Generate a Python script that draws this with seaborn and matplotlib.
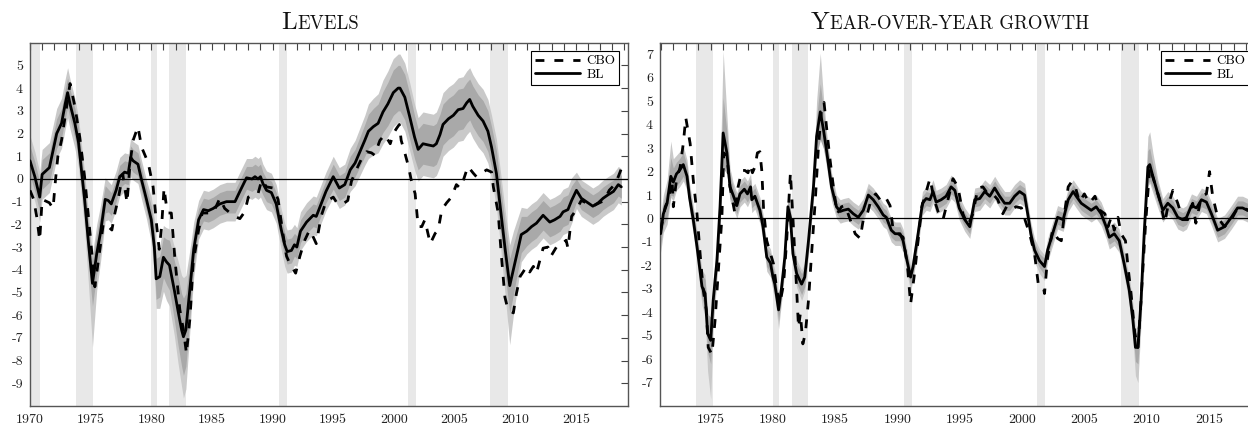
import numpy as np
import matplotlib
matplotlib.use("Agg")
import matplotlib.pyplot as plt
import seaborn as sns
from matplotlib.ticker import FixedLocator, MultipleLocator

sns.set_theme(style="white")
plt.rcParams["font.family"] = ["cmr10", "DejaVu Serif"]
plt.rcParams["axes.unicode_minus"] = False
plt.rcParams["mathtext.fontset"] = "cm"
plt.rcParams["axes.formatter.use_mathtext"] = True

# ---------------- recessions (NBER) ----------------
rec_start = [1969.92, 1973.83, 1980.00, 1981.50, 1990.50, 2001.17, 2007.92]
rec_end = [1970.83, 1975.17, 1980.50, 1982.83, 1991.17, 2001.83, 2009.42]

# ---------------- LEVELS panel ----------------
lev_bl_t = [
    1970.00, 1970.40, 1970.80, 1971.00, 1971.60, 1972.20, 1972.60, 1972.90, 1973.10, 1973.30, 1973.70,
    1974.00, 1974.50, 1974.80, 1975.15, 1975.50, 1975.80, 1976.20,
    1976.45, 1976.70, 1977.10, 1977.40, 1977.80, 1978.10, 1978.30, 1978.50, 1978.90, 1979.20, 1979.60,
    1980.00, 1980.25, 1980.40, 1980.70, 1981.00, 1981.25, 1981.50, 1981.90, 1982.20, 1982.50, 1982.65, 1982.85, 1983.20, 1983.50,
    1983.90, 1984.30, 1984.70, 1985.10, 1985.65, 1986.20, 1986.90, 1987.30, 1987.85, 1988.30, 1988.55, 1988.80, 1989.00, 1989.20, 1989.50, 1989.90,
    1990.30, 1990.70, 1991.00, 1991.20, 1991.55, 1991.80, 1992.00, 1992.30, 1992.80, 1993.35, 1993.60,
    1994.00, 1994.40, 1995.00, 1995.50, 1995.95, 1996.40, 1996.80, 1997.20, 1997.60, 1997.90, 1998.30, 1998.70,
    1999.10, 1999.50, 1999.95, 2000.35, 2000.50, 2000.90, 2001.30, 2001.70,
    2002.00, 2002.40, 2002.80, 2003.25, 2003.50, 2003.80, 2004.05, 2004.50, 2004.90, 2005.30, 2005.70, 2006.00, 2006.25, 2006.50, 2006.95, 2007.35, 2007.75,
    2008.05, 2008.45, 2008.70, 2009.15, 2009.55, 2009.85, 2010.25, 2010.50,
    2010.95, 2011.35, 2011.75, 2012.30, 2012.85, 2013.25, 2013.70, 2013.95, 2014.35, 2014.65,
    2015.05, 2015.45, 2016.00, 2016.40, 2016.85, 2017.25, 2017.65, 2018.10, 2018.50, 2018.75,
]
lev_bl = [
    0.80, 0.10, -0.80, 0.20, 0.50, 2.00, 2.45, 3.30, 3.80, 3.30, 2.45,
    1.60, -0.90, -2.70, -4.60, -3.30, -2.40, -0.90,
    -0.95, -1.10, -0.50, 0.10, 0.30, 0.25, 0.95, 0.80, 0.65, -0.05, -0.90,
    -1.80, -3.00, -4.40, -4.30, -3.45, -3.65, -3.80, -4.90, -5.80, -6.65, -6.95, -6.65, -4.75, -3.10,
    -1.80, -1.35, -1.40, -1.30, -1.10, -1.00, -1.00, -0.55, 0.05, 0.00, 0.10, 0.00, 0.10, -0.20, -0.50, -0.60,
    -1.10, -2.20, -2.90, -3.20, -3.15, -2.90, -3.00, -2.30, -1.90, -1.60, -1.65,
    -1.10, -0.55, 0.10, -0.40, -0.25, 0.40, 0.70, 1.20, 1.70, 2.10, 2.30, 2.45,
    2.95, 3.30, 3.80, 4.00, 4.00, 3.60, 2.75, 1.85,
    1.30, 1.55, 1.50, 1.45, 1.55, 1.95, 2.40, 2.65, 2.80, 3.05, 3.10, 3.35, 3.50, 3.20, 2.80, 2.55, 2.10,
    1.40, 0.25, -0.90, -3.00, -4.70, -4.00, -3.05, -2.45,
    -2.30, -2.10, -1.95, -1.60, -1.90, -1.80, -1.65, -1.45, -1.35, -0.95,
    -0.50, -0.85, -1.05, -1.20, -1.05, -0.85, -0.70, -0.55, -0.25, -0.35,
]
lev_inner = [
    0.65, 0.65, 0.65, 0.65, 0.65, 0.65, 0.65, 0.65, 0.65, 0.65, 0.65,
    0.70, 0.80, 0.90, 1.00, 0.90, 0.80, 0.60,
    0.50, 0.50, 0.50, 0.50, 0.50, 0.50, 0.50, 0.50, 0.50, 0.50, 0.50,
    0.60, 0.80, 0.90, 0.90, 0.90, 1.00, 1.10, 1.30, 1.50, 1.60, 1.70, 1.60, 1.20, 0.80,
    0.50, 0.50, 0.50, 0.50, 0.50, 0.50, 0.50, 0.50, 0.50, 0.55, 0.55, 0.55, 0.55, 0.50, 0.50, 0.50,
    0.50, 0.50, 0.55, 0.55, 0.55, 0.50, 0.50, 0.50, 0.50, 0.50, 0.50,
    0.50, 0.50, 0.55, 0.55, 0.55, 0.60, 0.60, 0.65, 0.70, 0.75, 0.80, 0.85,
    0.90, 0.95, 1.00, 1.00, 1.00, 1.00, 1.00, 0.95,
    0.90, 0.90, 0.90, 0.90, 0.90, 0.90, 0.90, 0.90, 0.90, 0.90, 0.90, 0.90, 0.90, 0.90, 0.90, 0.90, 0.90,
    0.90, 1.00, 1.00, 1.10, 1.20, 1.10, 0.90, 0.80,
    0.65, 0.65, 0.65, 0.65, 0.65, 0.65, 0.65, 0.65, 0.65, 0.65,
    0.50, 0.50, 0.50, 0.50, 0.50, 0.50, 0.50, 0.50, 0.50, 0.50,
]
lev_out_lo = [
    1.10, 1.10, 1.10, 1.10, 1.10, 1.10, 1.10, 1.10, 1.10, 1.10, 1.10,
    1.10, 1.30, 1.80, 2.80, 1.60, 1.30, 0.95,
    0.85, 0.85, 0.85, 0.85, 0.85, 0.85, 0.85, 0.85, 0.85, 0.85, 0.85,
    1.00, 1.20, 1.30, 1.40, 1.50, 1.70, 1.80, 2.00, 2.30, 2.50, 2.70, 2.60, 1.80, 1.20,
    0.85, 0.85, 0.85, 0.85, 0.85, 0.85, 0.85, 0.85, 0.85, 0.90, 0.90, 0.90, 0.90, 0.85, 0.85, 0.85,
    0.85, 0.90, 0.95, 0.95, 0.95, 0.90, 0.85, 0.85, 0.85, 0.85, 0.85,
    0.85, 0.85, 0.90, 0.90, 0.90, 0.95, 1.00, 1.05, 1.10, 1.20, 1.25, 1.30,
    1.40, 1.45, 1.50, 1.50, 1.50, 1.50, 1.50, 1.45,
    1.40, 1.40, 1.40, 1.40, 1.40, 1.40, 1.40, 1.40, 1.40, 1.40, 1.40, 1.40, 1.40, 1.40, 1.40, 1.40, 1.40,
    1.40, 1.50, 1.60, 2.00, 2.60, 2.00, 1.50, 1.20,
    1.00, 1.00, 1.00, 1.00, 1.00, 1.00, 1.00, 1.00, 1.00, 1.00,
    0.80, 0.80, 0.80, 0.80, 0.80, 0.80, 0.80, 0.80, 0.80, 0.80,
]
lev_out_hi = [
    1.10, 1.10, 1.10, 1.10, 1.10, 1.10, 1.10, 1.10, 1.10, 1.10, 1.10,
    1.10, 1.20, 1.30, 1.30, 1.30, 1.20, 0.95,
    0.85, 0.85, 0.85, 0.85, 0.85, 0.85, 0.85, 0.85, 0.85, 0.85, 0.85,
    1.00, 1.20, 1.30, 1.40, 1.40, 1.50, 1.60, 1.90, 2.20, 2.40, 2.60, 2.40, 1.70, 1.20,
    0.85, 0.85, 0.85, 0.85, 0.85, 0.85, 0.85, 0.85, 0.85, 0.90, 0.90, 0.90, 0.90, 0.85, 0.85, 0.85,
    0.85, 0.90, 0.95, 0.95, 0.95, 0.90, 0.85, 0.85, 0.85, 0.85, 0.85,
    0.85, 0.85, 0.90, 0.90, 0.90, 0.95, 1.00, 1.05, 1.10, 1.20, 1.25, 1.30,
    1.40, 1.45, 1.50, 1.50, 1.50, 1.50, 1.50, 1.45,
    1.40, 1.40, 1.40, 1.40, 1.40, 1.40, 1.40, 1.40, 1.40, 1.40, 1.40, 1.40, 1.40, 1.40, 1.40, 1.40, 1.40,
    1.40, 1.50, 1.60, 1.70, 1.80, 1.70, 1.40, 1.20,
    1.00, 1.00, 1.00, 1.00, 1.00, 1.00, 1.00, 1.00, 1.00, 1.00,
    0.80, 0.80, 0.80, 0.80, 0.80, 0.80, 0.80, 0.80, 0.80, 0.80,
]
lev_cbo_t = [
    1970.00, 1970.30, 1970.55, 1970.80, 1971.00, 1971.40, 1971.60, 1971.90, 1972.10, 1972.30, 1972.60, 1972.90,
    1973.30, 1973.70, 1974.10, 1974.50, 1974.95, 1975.35, 1975.75, 1976.05, 1976.45, 1976.75, 1977.00, 1977.30,
    1977.65, 1978.00, 1978.25, 1978.50, 1978.90, 1979.20, 1979.75, 1980.15, 1980.45, 1980.65, 1980.85, 1981.05,
    1981.25, 1981.40, 1981.65, 1981.95, 1982.35, 1982.65, 1982.90, 1983.20, 1983.45, 1983.90, 1984.20, 1984.55,
    1985.10, 1985.65, 1986.05, 1986.50, 1986.90, 1987.30, 1987.70, 1988.00, 1988.40, 1988.80, 1989.10, 1989.50,
    1990.05, 1990.45, 1990.85, 1991.15, 1991.40, 1991.90, 1992.25, 1992.65, 1993.05, 1993.30, 1993.60, 1994.00,
    1994.40, 1995.00, 1995.35, 1995.80, 1996.20, 1996.50, 1996.90, 1997.30, 1997.75, 1998.15, 1998.40, 1998.85,
    1999.25, 1999.70, 1999.95, 2000.25, 2000.45, 2000.60, 2000.90, 2001.20, 2001.45, 2001.75, 2002.00, 2002.30,
    2002.55, 2003.00, 2003.40, 2003.65, 2003.95, 2004.35, 2004.75, 2005.15, 2005.45, 2005.70, 2006.10, 2006.55,
    2006.80, 2007.20, 2007.65, 2008.05, 2008.20, 2008.60, 2008.85, 2009.15, 2009.40, 2009.85, 2010.10, 2010.40,
    2010.65, 2010.95, 2011.20, 2011.50, 2011.75, 2012.05, 2012.30, 2012.70, 2012.95, 2013.40, 2013.80, 2014.20,
    2014.35, 2014.65, 2015.05, 2015.45, 2015.85, 2016.40, 2016.95, 2017.35, 2017.75, 2018.20, 2018.50, 2018.75,
]
lev_cbo = [
    -0.50, -0.90, -1.65, -2.70, -0.90, -1.00, -1.05, -1.30, -0.05, 1.00, 1.70, 2.75,
    4.20, 3.20, 1.85, 0.10, -2.40, -4.75, -3.15, -1.95, -2.10, -2.25, -1.50, -0.80,
    0.20, -1.05, 0.70, 1.70, 2.30, 1.40, 0.70, -0.35, -2.10, -3.10, -2.10, -0.40,
    -1.20, -1.50, -1.50, -3.55, -5.75, -6.65, -7.70, -6.05, -3.70, -2.25, -1.50, -1.50,
    -1.50, -0.85, -1.30, -1.50, -1.65, -1.75, -1.45, -0.80, -0.70, -0.65, -0.05, -0.35,
    -0.40, -0.90, -2.40, -3.40, -3.70, -4.15, -3.40, -2.70, -2.25, -2.50, -2.85, -1.65,
    -1.00, -0.80, -1.10, -1.10, -0.95, -0.10, 0.40, 0.85, 1.20, 1.15, 1.05, 1.70,
    1.95, 1.55, 2.00, 2.25, 2.40, 1.70, 1.15, 0.55, -0.10, -0.65, -2.10, -2.10,
    -1.80, -2.85, -2.40, -2.25, -1.35, -1.05, -0.80, -0.25, -0.40, -0.10, 0.55, 0.25,
    0.10, 0.25, 0.40, 0.30, -0.35, -1.50, -3.30, -5.20, -5.75, -5.90, -5.05, -4.30,
    -4.10, -3.85, -4.10, -3.85, -4.15, -3.55, -3.05, -3.00, -3.40, -3.00, -2.90, -2.70,
    -3.05, -1.65, -1.35, -0.95, -1.05, -1.20, -1.05, -0.95, -0.50, -0.25, 0.10, 0.45,
]

# ---------------- YEAR-OVER-YEAR GROWTH panel ----------------
yoy_bl_t = [
    1970.98, 1971.20, 1971.50, 1971.80, 1972.00, 1972.25, 1972.50, 1972.80, 1973.10, 1973.30, 1973.60, 1973.90,
    1974.30, 1974.55, 1974.75, 1975.00, 1975.20, 1975.50,
    1975.75, 1976.00, 1976.30, 1976.55,
    1976.80, 1977.10, 1977.35, 1977.70, 1977.95, 1978.20, 1978.30, 1978.55, 1978.95, 1979.20,
    1979.50, 1979.80, 1980.00, 1980.15, 1980.45, 1980.70, 1980.95, 1981.20, 1981.40,
    1981.60, 1981.90, 1982.30, 1982.55, 1982.85, 1983.25,
    1983.50, 1983.80, 1984.05, 1984.30, 1984.70,
    1985.10, 1985.40, 1985.65, 1986.05, 1986.45, 1986.85, 1987.25, 1987.65, 1988.05, 1988.45,
    1988.85, 1989.10, 1989.50, 1989.80, 1990.20, 1990.45, 1990.70, 1991.05, 1991.25, 1991.65,
    1992.00, 1992.30, 1992.60, 1992.85, 1993.10, 1993.50, 1993.90, 1994.30, 1994.60, 1994.95,
    1995.40, 1995.80, 1996.20, 1996.60, 1997.00, 1997.40, 1997.80, 1998.20, 1998.60, 1999.00,
    1999.40, 1999.80, 2000.20, 2000.45, 2000.70, 2001.00, 2001.40, 2001.80, 2002.05, 2002.45,
    2002.85, 2003.30, 2003.70, 2004.10, 2004.35, 2004.75, 2005.15, 2005.55, 2005.95, 2006.35,
    2006.75, 2007.00, 2007.40, 2007.80, 2008.20,
    2008.60, 2008.90, 2009.10, 2009.30, 2009.55, 2009.80, 2010.10, 2010.25, 2010.50, 2010.90,
    2011.30, 2011.70, 2012.10, 2012.50, 2012.90, 2013.20, 2013.60, 2014.00, 2014.40, 2014.80,
    2015.20, 2015.70, 2016.25, 2016.80, 2017.30, 2017.70, 2018.10, 2018.50, 2018.75,
]
yoy_bl = [
    -0.65, 0.20, 0.65, 1.80, 1.55, 1.90, 2.05, 2.30, 1.80, 0.90, -0.05, -1.20,
    -2.90, -3.20, -4.90, -5.20, -3.50, -1.80,
    0.50, 3.65, 2.80, 1.35,
    1.00, 0.55, 1.05, 1.25, 1.05, 1.35, 0.80, 0.95, 0.35, -0.35,
    -1.65, -1.90, -2.50, -2.80, -3.90, -2.90, -1.65, 0.50, 0.05,
    -1.50, -2.35, -2.80, -2.50, -0.95, 1.35,
    3.50, 4.55, 3.80, 2.90, 1.35,
    0.50, 0.30, 0.35, 0.40, 0.20, 0.05, 0.35, 1.00, 0.80, 0.50,
    0.15, 0.05, -0.50, -0.65, -0.65, -0.95, -1.65, -2.50, -2.05, -0.65,
    0.65, 0.85, 0.80, 1.15, 0.70, 0.80, 0.95, 1.35, 1.20, 0.45,
    -0.05, -0.35, 0.80, 0.85, 1.15, 0.95, 1.30, 0.95, 0.65, 0.65,
    0.95, 1.15, 1.00, 0.20, -0.65, -1.35, -1.80, -2.05, -1.35, -0.65,
    0.05, -0.05, 0.80, 1.15, 0.95, 0.65, 0.50, 0.35, 0.50, 0.20,
    -0.35, -0.80, -0.65, -0.95, -1.95,
    -3.05, -4.35, -5.50, -5.50, -3.50, -0.65, 2.20, 2.30, 1.80, 1.05,
    0.35, 0.65, 0.45, 0.05, -0.05, 0.05, 0.55, 0.45, 0.80, 0.70,
    0.20, -0.50, -0.35, 0.05, 0.45, 0.45, 0.35, 0.50, 0.35,
]
yoy_inner = [
    0.50, 0.50, 0.60, 0.80, 0.60, 0.50, 0.50, 0.50, 0.45, 0.40, 0.40, 0.45,
    0.50, 0.60, 0.80, 1.00, 0.70, 0.50,
    0.80, 1.50, 0.90, 0.50,
    0.35, 0.35, 0.35, 0.35, 0.35, 0.35, 0.35, 0.35, 0.35, 0.35,
    0.40, 0.40, 0.40, 0.40, 0.45, 0.40, 0.40, 0.40, 0.40,
    0.40, 0.40, 0.45, 0.40, 0.40, 0.40,
    0.80, 1.20, 0.80, 0.50, 0.40,
    0.30, 0.30, 0.30, 0.30, 0.30, 0.30, 0.30, 0.30, 0.30, 0.30,
    0.30, 0.30, 0.30, 0.30, 0.30, 0.30, 0.30, 0.35, 0.30, 0.30,
    0.30, 0.30, 0.30, 0.30, 0.30, 0.30, 0.30, 0.30, 0.30, 0.30,
    0.30, 0.30, 0.30, 0.30, 0.30, 0.30, 0.30, 0.30, 0.30, 0.30,
    0.30, 0.30, 0.30, 0.30, 0.30, 0.30, 0.30, 0.35, 0.30, 0.30,
    0.30, 0.30, 0.30, 0.30, 0.30, 0.30, 0.30, 0.30, 0.30, 0.30,
    0.30, 0.30, 0.30, 0.30, 0.30,
    0.40, 0.50, 0.60, 0.70, 0.60, 0.50, 0.70, 0.70, 0.50, 0.40,
    0.30, 0.30, 0.30, 0.30, 0.30, 0.30, 0.30, 0.30, 0.30, 0.30,
    0.30, 0.30, 0.30, 0.30, 0.30, 0.30, 0.30, 0.30, 0.30,
]
yoy_out_lo = [
    0.80, 0.80, 0.90, 0.90, 0.80, 0.70, 0.70, 0.70, 0.60, 0.60, 0.60, 0.70,
    0.80, 1.00, 1.60, 2.50, 1.20, 0.80,
    0.80, 1.00, 0.80, 0.60,
    0.55, 0.55, 0.55, 0.55, 0.55, 0.55, 0.55, 0.55, 0.55, 0.55,
    0.60, 0.60, 0.60, 0.60, 0.80, 0.60, 0.60, 0.60, 0.60,
    0.60, 0.60, 0.70, 0.60, 0.60, 0.60,
    0.80, 0.90, 0.80, 0.70, 0.60,
    0.50, 0.50, 0.50, 0.50, 0.50, 0.50, 0.50, 0.50, 0.50, 0.50,
    0.50, 0.50, 0.50, 0.50, 0.50, 0.50, 0.55, 0.60, 0.55, 0.50,
    0.50, 0.50, 0.50, 0.50, 0.50, 0.50, 0.50, 0.50, 0.50, 0.50,
    0.50, 0.50, 0.50, 0.50, 0.50, 0.50, 0.50, 0.50, 0.50, 0.50,
    0.50, 0.50, 0.50, 0.50, 0.50, 0.50, 0.55, 0.60, 0.50, 0.50,
    0.50, 0.50, 0.50, 0.50, 0.50, 0.50, 0.50, 0.50, 0.50, 0.50,
    0.50, 0.50, 0.50, 0.50, 0.50,
    0.60, 0.80, 1.20, 1.50, 1.00, 0.80, 0.80, 0.80, 0.70, 0.60,
    0.50, 0.50, 0.50, 0.50, 0.50, 0.50, 0.50, 0.50, 0.50, 0.50,
    0.50, 0.50, 0.50, 0.50, 0.50, 0.50, 0.50, 0.50, 0.50,
]
yoy_out_hi = [
    0.80, 0.80, 1.00, 1.50, 1.00, 0.80, 0.80, 0.80, 0.70, 0.60, 0.60, 0.70,
    0.70, 0.80, 0.90, 0.90, 0.90, 0.80,
    1.30, 3.50, 1.60, 0.80,
    0.55, 0.55, 0.55, 0.55, 0.55, 0.55, 0.55, 0.55, 0.55, 0.55,
    0.60, 0.60, 0.60, 0.60, 0.60, 0.60, 0.60, 0.60, 0.60,
    0.60, 0.60, 0.60, 0.60, 0.60, 0.60,
    1.50, 2.50, 1.40, 0.80, 0.60,
    0.50, 0.50, 0.50, 0.50, 0.50, 0.50, 0.50, 0.50, 0.50, 0.50,
    0.50, 0.50, 0.50, 0.50, 0.50, 0.50, 0.50, 0.50, 0.50, 0.50,
    0.50, 0.50, 0.50, 0.50, 0.50, 0.50, 0.50, 0.50, 0.50, 0.50,
    0.50, 0.50, 0.50, 0.50, 0.50, 0.50, 0.50, 0.50, 0.50, 0.50,
    0.50, 0.50, 0.50, 0.50, 0.50, 0.50, 0.50, 0.50, 0.50, 0.50,
    0.50, 0.50, 0.50, 0.50, 0.50, 0.50, 0.50, 0.50, 0.50, 0.50,
    0.50, 0.50, 0.50, 0.50, 0.50,
    0.60, 0.70, 0.80, 0.90, 0.90, 0.90, 1.30, 1.40, 1.00, 0.60,
    0.50, 0.50, 0.50, 0.50, 0.50, 0.50, 0.50, 0.50, 0.50, 0.50,
    0.50, 0.50, 0.50, 0.50, 0.50, 0.50, 0.50, 0.50, 0.50,
]
yoy_cbo_t = [
    1970.98, 1971.35, 1971.60, 1971.90, 1972.00, 1972.25, 1972.55, 1972.80, 1973.00, 1973.35, 1973.60, 1973.90,
    1974.15, 1974.40, 1974.65, 1974.80, 1975.10, 1975.35, 1975.60, 1975.90, 1976.05, 1976.30, 1976.55, 1976.95,
    1977.20, 1977.50, 1977.75, 1978.00, 1978.15, 1978.35, 1978.55, 1978.75, 1978.95, 1979.10, 1979.25, 1979.50,
    1979.80, 1980.05, 1980.30, 1980.55, 1980.85, 1981.10, 1981.40, 1981.60, 1981.85, 1982.05, 1982.20, 1982.40,
    1982.60, 1982.85, 1983.10, 1983.40, 1983.65, 1983.90, 1984.10, 1984.30, 1984.55, 1984.85, 1985.15, 1985.50,
    1985.80, 1986.20, 1986.60, 1987.00, 1987.25, 1987.50, 1987.90, 1988.25, 1988.60, 1989.00, 1989.40, 1989.65,
    1990.05, 1990.45, 1990.80, 1991.05, 1991.40, 1991.65, 1991.95, 1992.20, 1992.60, 1992.95, 1993.25, 1993.65,
    1994.05, 1994.45, 1994.85, 1995.25, 1995.65, 1996.05, 1996.45, 1996.85, 1997.25, 1997.65, 1998.05, 1998.45,
    1998.75, 1999.10, 1999.50, 1999.95, 2000.20, 2000.60, 2001.00, 2001.30, 2001.70, 2001.80, 2002.05, 2002.45,
    2002.85, 2003.15, 2003.40, 2003.70, 2003.95, 2004.20, 2004.60, 2005.00, 2005.40, 2005.85, 2006.25, 2006.65,
    2006.90, 2007.15, 2007.40, 2007.70, 2007.95, 2008.30, 2008.50, 2008.75, 2009.05, 2009.30, 2009.55, 2009.90,
    2010.25, 2010.65, 2011.05, 2011.45, 2011.70, 2012.10, 2012.50, 2012.90, 2013.30, 2013.70, 2013.95, 2014.40,
    2014.80, 2015.05, 2015.30, 2015.70, 2016.25, 2016.80, 2017.20, 2017.70, 2018.10, 2018.40, 2018.60, 2018.75,
]
yoy_cbo = [
    -0.50, 0.50, 0.80, 1.65, 0.50, 1.65, 2.20, 3.20, 4.30, 3.20, 1.65, 0.20,
    -1.50, -3.05, -3.90, -5.50, -5.80, -4.35, -2.35, 0.05, 2.80, 2.65, 1.35, 0.20,
    1.35, 2.05, 2.05, 1.95, 2.30, 1.95, 2.20, 2.80, 2.85, 2.05, 0.35, -0.95,
    -1.50, -1.95, -3.05, -3.65, -2.80, -0.95, 1.95, 0.05, -2.50, -4.65, -4.05, -5.35,
    -4.90, -3.50, -1.50, 0.80, 3.05, 4.65, 4.95, 3.90, 2.65, 1.35, 0.20, 0.50,
    0.55, -0.05, -0.65, -0.85, -0.05, 0.05, 0.85, 1.05, 0.80, 0.95, 0.55, -0.50,
    -0.65, -0.80, -2.05, -3.65, -2.20, -0.95, 0.50, 0.95, 1.70, 0.80, 0.30, -0.05,
    0.80, 1.70, 1.35, 0.20, -0.30, 0.20, 1.30, 1.35, 1.05, 1.05, 0.80, 0.20,
    0.50, 0.35, 0.50, 0.45, 0.00, -0.65, -1.50, -2.80, -2.90, -3.20, -1.65, -0.50,
    -0.85, -0.95, 0.20, 1.35, 1.55, 1.50, 0.70, 1.05, 0.65, 0.95, 0.35, 0.20,
    -0.35, 0.05, -0.50, 0.05, -0.65, -0.95, -2.05, -3.20, -4.90, -5.50, -3.50, -0.35,
    2.20, 1.50, 0.80, -0.20, 0.50, 1.20, 0.65, -0.05, -0.05, 0.65, -0.20, 0.95,
    1.05, 2.00, 0.95, 0.05, -0.35, -0.05, 0.35, 0.50, 0.35, 0.50, 0.90, 0.70,
]

REC_COLOR = "#e8e8e8"
OUT_COLOR = "#c9c9c9"
IN_COLOR = "#a9a9a9"
DPI = 100
W, H = 1248, 428


def draw_panel(ax, bl_t, bl, inner, out_lo, out_hi, cbo_t, cbo, xlim, ylim, yticks, xlabels):
    bl_t = np.asarray(bl_t); bl = np.asarray(bl)
    inner = np.asarray(inner); out_lo = np.asarray(out_lo); out_hi = np.asarray(out_hi)
    for s, e in zip(rec_start, rec_end):
        ax.axvspan(s, e, color=REC_COLOR, lw=0, zorder=0)
    ax.fill_between(bl_t, bl - out_lo, bl + out_hi, color=OUT_COLOR, lw=0, zorder=1)
    ax.fill_between(bl_t, bl - inner, bl + inner, color=IN_COLOR, lw=0, zorder=2)
    ax.axhline(0, color="black", lw=0.9, zorder=3)
    sns.lineplot(x=cbo_t, y=cbo, ax=ax, color="black", lw=2.0, errorbar=None,
                 linestyle=(0, (3.2, 3.6)), label="CBO", zorder=5)
    sns.lineplot(x=bl_t, y=bl, ax=ax, color="black", lw=2.0, errorbar=None,
                 label="BL", zorder=4)
    ax.set_xlim(*xlim)
    ax.set_ylim(*ylim)
    ax.set_xlabel("")
    ax.set_ylabel("")
    ax.xaxis.set_major_locator(FixedLocator(xlabels))
    ax.set_xticklabels([str(v) for v in xlabels])
    ax.xaxis.set_minor_locator(MultipleLocator(1))
    ax.set_yticks(yticks)
    ax.set_yticklabels([str(v) for v in yticks])
    ax.tick_params(which="both", direction="in", top=True, right=True, length=5,
                   width=0.8, color="#444444")
    ax.tick_params(axis="x", which="major", labelsize=10, pad=6, labelcolor="#222222")
    ax.tick_params(axis="y", which="major", labelsize=10, pad=5, labelcolor="#222222")
    for sp in ax.spines.values():
        sp.set_color("#555555")
        sp.set_linewidth(1.0)
    leg = ax.legend(loc="upper right", frameon=True, fancybox=False, edgecolor="black",
                    framealpha=1, fontsize=9.5, handlelength=3.4, borderpad=0.3,
                    labelspacing=0.1, handletextpad=0.5, borderaxespad=0.65)
    leg.get_frame().set_linewidth(0.8)
    for txt in leg.get_texts():
        txt.set_color("black")


fig = plt.figure(figsize=(W / DPI, H / DPI), dpi=DPI)
fig.patch.set_facecolor("white")

bottom = (H - 406) / H
height = (406 - 42.7) / H
ax1 = fig.add_axes([30 / W, bottom, 598 / W, height])
ax2 = fig.add_axes([660 / W, bottom, 598 / W, height])

draw_panel(ax1, lev_bl_t, lev_bl, lev_inner, lev_out_lo, lev_out_hi, lev_cbo_t, lev_cbo,
           (1970.0, 2019.3), (-10, 6), list(range(-9, 6)),
           [1970, 1975, 1980, 1985, 1990, 1995, 2000, 2005, 2010, 2015])
draw_panel(ax2, yoy_bl_t, yoy_bl, yoy_inner, yoy_out_lo, yoy_out_hi, yoy_cbo_t, yoy_cbo,
           (1970.93, 2018.94), (-8, 7.5), list(range(-7, 8)),
           [1975, 1980, 1985, 1990, 1995, 2000, 2005, 2010, 2015])

# small-caps style titles
renderer = fig.canvas.get_renderer()


def small_caps(xc_px, base_px, pieces):
    texts = []
    widths = []
    for s, size in pieces:
        t = fig.text(0, 0, s, fontsize=size, va="baseline", ha="left", color="#111111")
        texts.append(t)
        widths.append(t.get_window_extent(renderer).width)
    gap = 0.8
    total = sum(widths) + gap * (len(widths) - 1)
    x = xc_px - total / 2
    for t, w in zip(texts, widths):
        t.set_position((x / W, 1 - base_px / H))
        x += w + gap


small_caps(320, 29.3, [("L", 18), ("EVELS", 13.5)])
small_caps(950, 29.3, [("Y", 18), ("EAR-OVER-YEAR GROWTH", 13.5)])

fig.savefig("out.png", dpi=DPI, facecolor="white")
